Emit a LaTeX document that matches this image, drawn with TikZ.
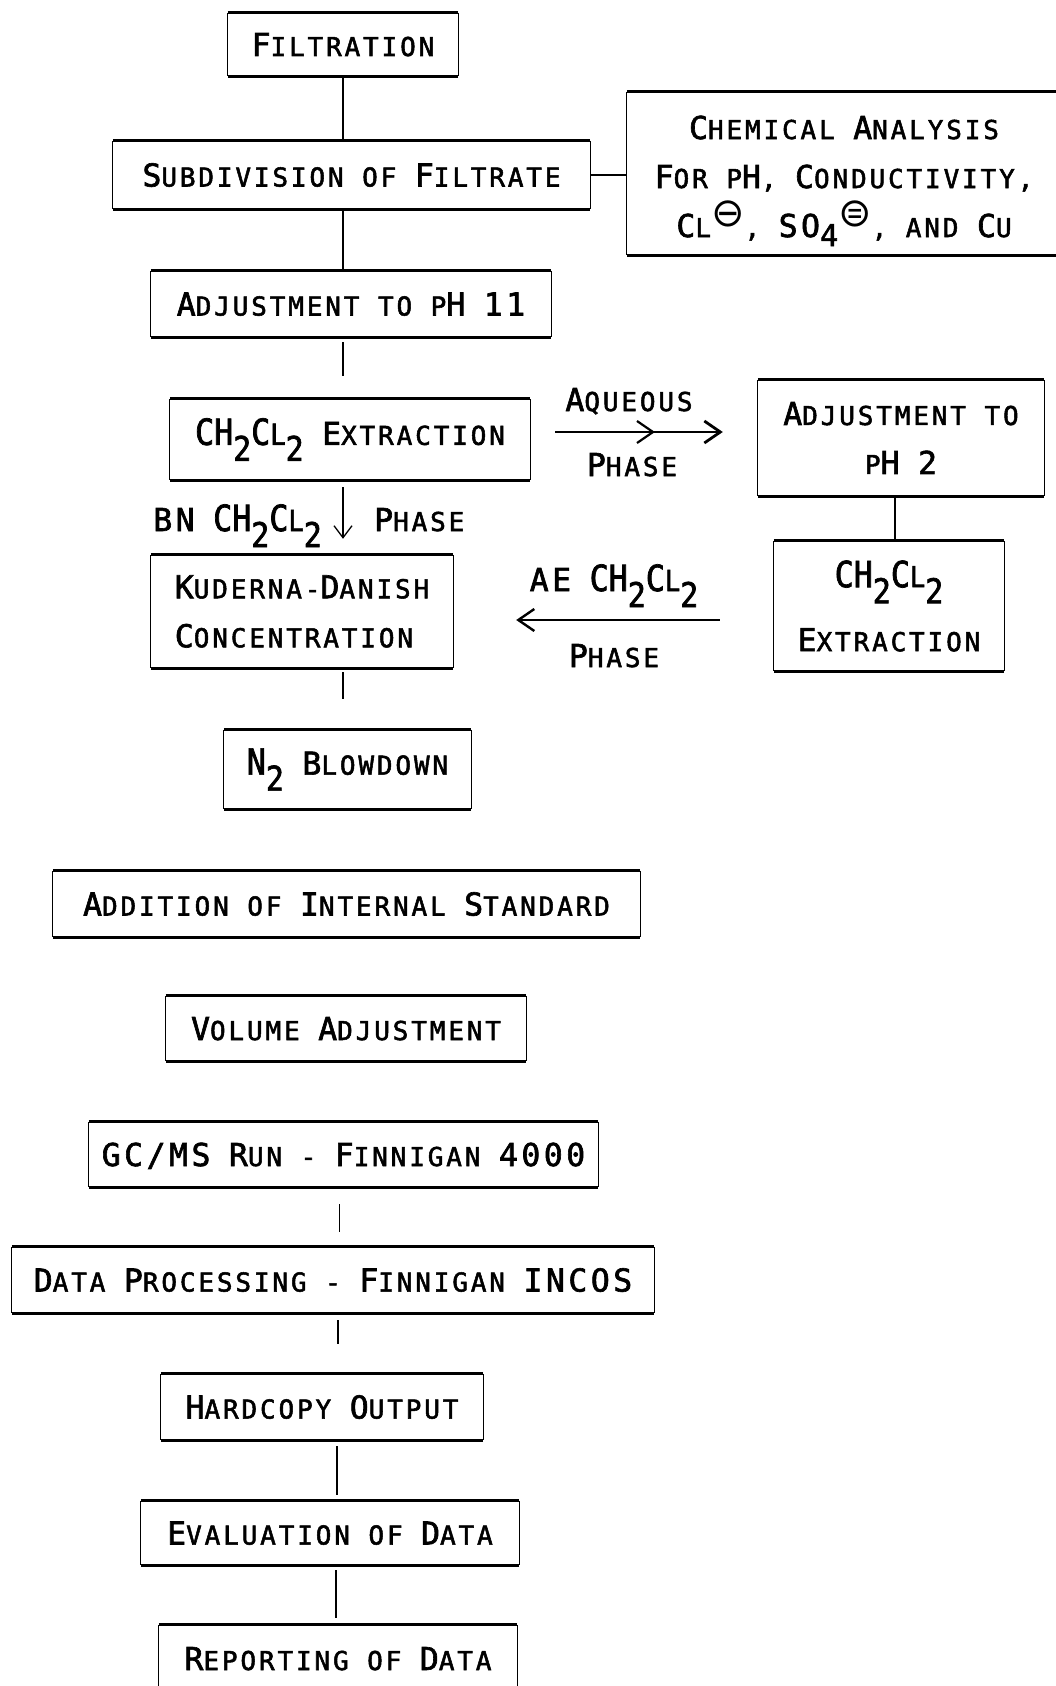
\documentclass[tikz,border=0pt]{standalone}
\usepackage{fontspec}
\usetikzlibrary{arrows.meta,calc}
\newfontfamily\lfont{DejaVu Sans Mono}[LetterSpace=11,FakeBold=2]
\newfontfamily\ffont{DejaVu Sans Mono}[FakeStretch=0.88,FakeBold=2]
\newfontfamily\symf{DejaVu Sans}
\newcommand\smsz{\fontsize{26}{49}\selectfont}
\newcommand\bgsz{\fontsize{31.5}{49}\selectfont}
\def\Wa#1#2\relax{{\bgsz#1}{\smsz\uppercase{#2}}}
\newcommand\W[1]{\Wa#1\relax}
\newcommand\Sm[1]{{\smsz\uppercase{#1}}}
\newcommand\B[1]{{\bgsz#1}}
\newcommand\fo[1]{{\ffont\fontsize{36}{49}\selectfont#1}}
\newcommand\fl[1]{{\ffont\fontsize{29}{49}\selectfont#1}}
\newcommand\fsub[1]{\raisebox{-16pt}{\ffont\fontsize{34}{49}\selectfont#1}}
\newcommand\fsubb[1]{\raisebox{-9pt}{\lfont\fontsize{30}{49}\selectfont#1}}
\newcommand\circm{\raisebox{11pt}{\symf\fontsize{40}{49}\selectfont ⊖}}
\newcommand\circe{\raisebox{11pt}{\symf\fontsize{40}{49}\selectfont ⊜}}
\newcommand\chem{\fo{CH}\fsub{2}\fo{C}\fl{L}\fsub{2}}
\begin{document}
\begin{tikzpicture}[x=1pt,y=-1pt,
  box/.style={inner sep=0pt, font=\lfont\smsz, align=center},
  plain/.style={text height=23pt, text depth=0pt},
  side/.style={line width=1.3pt},
  edgeline/.style={line width=3.2pt},
  conn/.style={line width=1.3pt},
  bigarr/.style={line width=2.8pt, -{Straight Barb[length=16pt,width=22pt]}},
  lbl/.style={inner sep=0pt, font=\lfont\smsz}]
\fill[white] (0,0) rectangle (1056,1686);
\useasboundingbox (0,0) rectangle (1056,1686);

\node[box,plain,minimum width=230pt,minimum height=63pt] (fil) at (343,44.5) {\W{Filtration}};
\node[box,plain,minimum width=477pt,minimum height=68pt] (sub) at (351.5,175) {\W{Subdivision} \Sm{of} \W{Filtrate}};
\node[box,minimum width=434pt,minimum height=163pt] (chem) at (844,173.5) {\rule{0pt}{38pt}\W{Chemical} \W{Analysis}\\ \W{For} \Sm{p}\B{H}, \W{Conductivity},\\ \W{Cl}\circm, \B{SO}\fsubb{4}\circe, \Sm{and} \W{Cu}};
\node[box,plain,minimum width=400pt,minimum height=66pt] (ph11) at (351,304) {\W{Adjustment} \Sm{to} \Sm{p}\B{H} \B{11}};
\node[box,minimum width=360pt,minimum height=81pt] (ext) at (350,439.5) {\chem{} \W{Extraction}};
\node[box,minimum width=286pt,minimum height=116pt] (ph2) at (901,438) {\W{Adjustment} \Sm{to}\\ \Sm{p}\B{H} \B{2}};
\node[box,minimum width=230pt,minimum height=130pt] (ext2) at (889,606) {\chem\\[15pt] \W{Extraction}};
\node[box,align=left,minimum width=302pt,minimum height=113pt] (kd) at (302,611.5) {\W{Kuderna}-\W{Danish}\\ \W{Concentration}};
\node[box,minimum width=247pt,minimum height=79pt] (n2) at (347.5,769.5) {\fo{N}\fsub{2} \W{Blowdown}};
\node[box,plain,minimum width=587pt,minimum height=66pt] (add) at (346.5,904) {\W{Addition} \Sm{of} \W{Internal} \W{Standard}};
\node[box,plain,minimum width=360pt,minimum height=65pt] (vol) at (346,1028.5) {\W{Volume} \W{Adjustment}};
\node[box,plain,minimum width=509pt,minimum height=65pt] (gc) at (343.5,1154.5) {\B{GC/MS} \W{Run} - \W{Finnigan} \B{4000}};
\node[box,plain,minimum width=642pt,minimum height=66pt] (dp) at (333,1280) {\W{Data} \W{Processing} - \W{Finnigan} \B{INCOS}};
\node[box,plain,minimum width=322pt,minimum height=66pt] (hc) at (322,1407) {\W{Hardcopy} \W{Output}};
\node[box,plain,minimum width=378pt,minimum height=64pt] (ev) at (330,1533) {\W{Evaluation} \Sm{of} \W{Data}};
\node[box,plain,minimum width=358pt,minimum height=67pt] (rep) at (338,1658.5) {\W{Reporting} \Sm{of} \W{Data}};

\foreach \n in {fil,sub,chem,ph11,ext,ph2,ext2,kd,n2,add,vol,gc,dp,hc,ev,rep}{
  \draw[side] (\n.north west) -- (\n.south west) (\n.north east) -- (\n.south east);
  \draw[edgeline] (\n.north west) -- (\n.north east) (\n.south west) -- (\n.south east);
}

% connectors
\draw[conn] (fil.south) -- (fil.south |- sub.north);
\draw[conn] (sub.south -| fil.south) -- (ph11.north -| fil.south);
\draw[conn] (sub.east) -- (sub.east -| chem.west);
\draw[conn, shorten <=5pt, shorten >=23pt] (ph11.south -| fil.south) -- (ext.north -| fil.south);
\draw[conn, -{Straight Barb[length=12pt,width=18pt]}, shorten <=7pt, shorten >=16pt] (ext.south -| fil.south) -- (kd.north -| fil.south);
\node[lbl, anchor=base east] (bnl) at (322,531) {\B{BN} \chem};
\node[lbl, anchor=base west] (bnr) at (374,531) {\W{Phase}};
\draw[conn, shorten <=4pt, shorten >=31pt] (kd.south -| fil.south) -- (n2.north -| fil.south);
\draw[conn] ([xshift=-6pt]ph2.south) -- ([xshift=-6pt]ph2.south |- ext2.north);
\draw[conn, shorten <=17pt, shorten >=15pt] ([xshift=-4pt]gc.south) -- ([xshift=-4pt]gc.south |- dp.north);
\draw[conn, shorten <=7pt, shorten >=30pt] ([xshift=5pt]dp.south) -- ([xshift=5pt]dp.south |- hc.north);
\draw[conn, shorten <=6pt, shorten >=6pt] ([xshift=15pt]hc.south) -- ([xshift=15pt]hc.south |- ev.north);
\draw[conn, shorten <=5pt, shorten >=7pt] ([xshift=6pt]ev.south) -- ([xshift=6pt]ev.south |- rep.north);

% aqueous phase
\coordinate (aqy) at (640,432);
\draw[bigarr, shorten <=25pt, shorten >=35pt] (ext.east |- aqy) -- (ph2.west |- aqy);
\draw[line width=2.2pt] (637,421) -- (653,432) -- (637,443);
\node[lbl, anchor=base] (aq) at (629,411) {\W{Aqueous}};
\node[lbl, anchor=base] (aqp) at (632,476) {\W{Phase}};

% AE phase
\coordinate (aey) at (600,620);
\draw[bigarr, line width=2.4pt, shorten <=54pt, shorten >=63pt] (ext2.west |- aey) -- (kd.east |- aey);
\node[lbl, anchor=base] (ae) at (614,591) {\B{AE} \chem};
\node[lbl, anchor=base] (aep) at (614,667) {\W{Phase}};
\end{tikzpicture}
\end{document}
